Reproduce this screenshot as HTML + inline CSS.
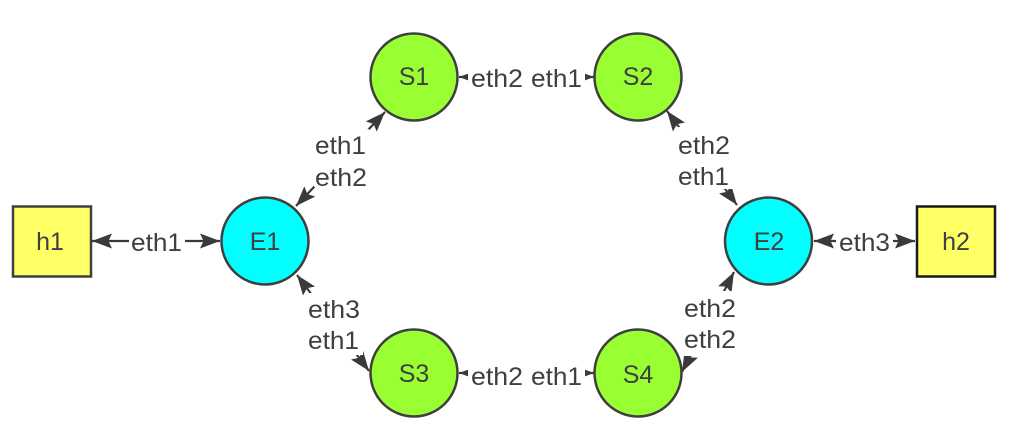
<!DOCTYPE html>
<html>
<head>
<meta charset="utf-8">
<style>
html,body{margin:0;padding:0;background:#fff;width:1012px;height:437px;overflow:hidden}
svg{display:block}
text{font-family:"Liberation Sans",sans-serif;font-size:25px;fill:#3f3f3f}
.c{text-anchor:middle}
.n{stroke:#3f3f3f;stroke-width:2.5}
.e{stroke:#3a3a3a;stroke-width:2.2;fill:none;marker-start:url(#a);marker-end:url(#a)}
</style>
</head>
<body>
<svg width="1012" height="437" viewBox="0 0 1012 437" xmlns="http://www.w3.org/2000/svg">
<defs>
<marker id="a" markerUnits="userSpaceOnUse" markerWidth="22" markerHeight="18" refX="20" refY="8" orient="auto-start-reverse" viewBox="0 0 22 16">
<path d="M20 8 L0 0.500 L3.500 8 L0 15.500 Z" fill="#3a3a3a"/>
</marker>
</defs>

<!-- connectors -->
<line class="e" x1="92" y1="241" x2="220" y2="241"/>
<line class="e" x1="296" y1="206" x2="385" y2="112"/>
<line class="e" x1="459" y1="77" x2="594" y2="77"/>
<line class="e" x1="667" y1="111" x2="737" y2="205"/>
<line class="e" x1="814" y1="241" x2="915" y2="241"/>
<line class="e" x1="734" y1="272" x2="682" y2="372"/>
<line class="e" x1="459" y1="373" x2="594" y2="373"/>
<line class="e" x1="297" y1="275" x2="369" y2="371"/>

<!-- label backgrounds -->
<g fill="#fff">
<rect x="129" y="226" width="56" height="30"/>
<rect x="314" y="129" width="55" height="58"/>
<rect x="468" y="62" width="117" height="30"/>
<rect x="676" y="127" width="60" height="62"/>
<rect x="836" y="226" width="57" height="30"/>
<rect x="683" y="291" width="56" height="65"/>
<rect x="468" y="358" width="117" height="30"/>
<rect x="307" y="293" width="56" height="62"/>
</g>

<!-- nodes -->
<rect class="n" x="13" y="206.500" width="78" height="70" fill="#ffff66"/>
<rect x="917" y="206.500" width="78" height="70" fill="#ffff66" stroke="#1a1a1a" stroke-width="2.500"/>
<circle class="n" cx="265" cy="241" r="43.500" fill="#00ffff"/>
<circle class="n" cx="768.500" cy="241" r="43.500" fill="#00ffff"/>
<circle class="n" cx="414" cy="77" r="43.500" fill="#99ff33"/>
<circle class="n" cx="638" cy="77" r="43.500" fill="#99ff33"/>
<circle class="n" cx="414" cy="373" r="43.500" fill="#99ff33"/>
<circle class="n" cx="638" cy="373" r="43.500" fill="#99ff33"/>

<!-- node labels -->
<text class="c" x="50" y="250">h1</text>
<text class="c" x="956" y="250">h2</text>
<text class="c" x="265" y="250">E1</text>
<text class="c" x="769" y="250">E2</text>
<text class="c" x="414" y="85">S1</text>
<text class="c" x="638" y="85">S2</text>
<text class="c" x="414" y="382">S3</text>
<text class="c" x="638" y="383">S4</text>

<!-- edge labels -->
<text x="131" y="251" textLength="51" lengthAdjust="spacingAndGlyphs">eth1</text>
<text x="315" y="154" textLength="51" lengthAdjust="spacingAndGlyphs">eth1</text>
<text x="315" y="186" textLength="52" lengthAdjust="spacingAndGlyphs">eth2</text>
<text x="471" y="87" textLength="52" lengthAdjust="spacingAndGlyphs">eth2</text>
<text x="531" y="87" textLength="51" lengthAdjust="spacingAndGlyphs">eth1</text>
<text x="678" y="154" textLength="52" lengthAdjust="spacingAndGlyphs">eth2</text>
<text x="678" y="185" textLength="51" lengthAdjust="spacingAndGlyphs">eth1</text>
<text x="839" y="251" textLength="51" lengthAdjust="spacingAndGlyphs">eth3</text>
<text x="684" y="317" textLength="52" lengthAdjust="spacingAndGlyphs">eth2</text>
<text x="684" y="348" textLength="52" lengthAdjust="spacingAndGlyphs">eth2</text>
<text x="471" y="385" textLength="52" lengthAdjust="spacingAndGlyphs">eth2</text>
<text x="531" y="385" textLength="51" lengthAdjust="spacingAndGlyphs">eth1</text>
<text x="308" y="318" textLength="52" lengthAdjust="spacingAndGlyphs">eth3</text>
<text x="308" y="349" textLength="51" lengthAdjust="spacingAndGlyphs">eth1</text>
</svg>
</body>
</html>
